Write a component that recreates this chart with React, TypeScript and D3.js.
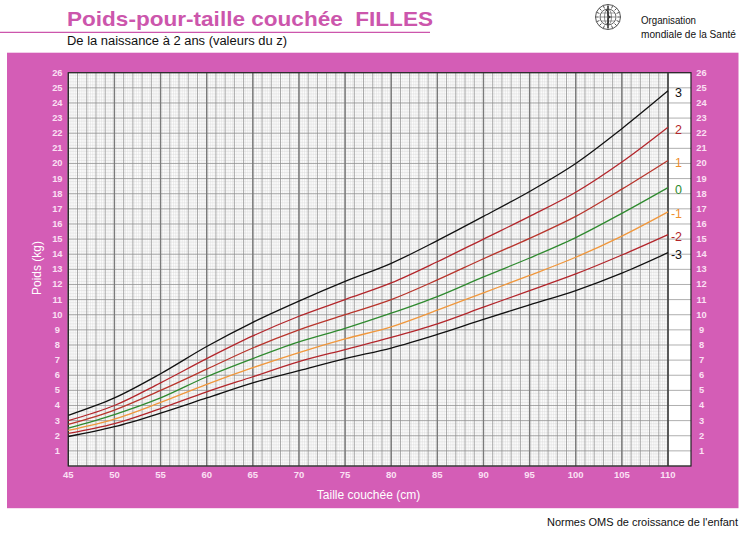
import React from "react";
import * as d3 from "d3";

const lengths = [45, 50, 55, 60, 65, 70, 75, 80, 85, 90, 95, 100, 105, 110];
const sdNeg3 = [1.95, 2.6, 3.5, 4.5, 5.5, 6.3, 7.1, 7.8, 8.7, 9.7, 10.65, 11.6, 12.75, 14.1];
const sdNeg2 = [2.15, 2.8, 3.8, 4.9, 5.9, 6.9, 7.7, 8.5, 9.4, 10.5, 11.6, 12.7, 13.95, 15.3];
const sdNeg1 = [2.35, 3.1, 4.2, 5.4, 6.5, 7.5, 8.4, 9.2, 10.3, 11.45, 12.6, 13.8, 15.2, 16.8];
const sd0 = [2.5, 3.4, 4.5, 5.9, 7.1, 8.2, 9.1, 10.1, 11.2, 12.5, 13.75, 15.1, 16.7, 18.4];
const sd1 = [2.75, 3.7, 5.0, 6.4, 7.8, 9.0, 10.0, 11.0, 12.3, 13.7, 15.05, 16.5, 18.3, 20.2];
const sd2 = [3.0, 4.0, 5.5, 7.1, 8.6, 9.9, 11.0, 12.1, 13.5, 15.0, 16.5, 18.1, 20.1, 22.4];
const sd3 = [3.35, 4.5, 6.1, 7.9, 9.5, 10.9, 12.2, 13.4, 14.9, 16.5, 18.15, 20.0, 22.3, 24.8];

const zLabels = ["3", "2", "1", "0", "-1", "-2", "-3"];
const xTicks = [45, 50, 55, 60, 65, 70, 75, 80, 85, 90, 95, 100, 105, 110];
const yTicks = d3.range(1, 27);

const seriesList = [
  { label: "3", values: sd3, line: "#111111", text: "#111111" },
  { label: "2", values: sd2, line: "#b3262b", text: "#b3262b" },
  { label: "1", values: sd1, line: "#b8352c", text: "#ee8f2f" },
  { label: "0", values: sd0, line: "#2f8a2f", text: "#2f8a2f" },
  { label: "-1", values: sdNeg1, line: "#f0973c", text: "#ee8f2f" },
  { label: "-2", values: sdNeg2, line: "#b3262b", text: "#b3262b" },
  { label: "-3", values: sdNeg3, line: "#111111", text: "#111111" },
];

const PINK = "#d45db6";
const TICK = "#fbe0f4";

export default function App() {
  const x = d3.scaleLinear().domain([45, 110]).range([68.3, 668]);
  const y = d3.scaleLinear().domain([0, 26]).range([466, 72.7]);
  const boxRight = 691;

  const minorX = d3.range(45, 110.001, 0.2).map((v) => Math.round(v * 10) / 10);
  const minorY = d3.range(0, 26.001, 0.2).map((v) => Math.round(v * 10) / 10);
  const unitX = d3.range(45, 111, 1);
  const unitY = d3.range(0, 27, 1);

  const line = d3
    .line<number>()
    .x((_, i) => x(lengths[i]))
    .y((d) => y(d))
    .curve(d3.curveCatmullRom.alpha(0.5));

  return (
    <svg
      width={750}
      height={533}
      style={{ position: "absolute", left: 0, top: 0, background: "#fff" }}
      fontFamily="'Liberation Sans', Arial, sans-serif"
    >
      {/* Title */}
      <text
        x={67}
        y={26}
        fontSize={21}
        fontWeight="bold"
        fill="#cc56ac"
        textLength={366}
        lengthAdjust="spacingAndGlyphs"
        style={{ whiteSpace: "pre" }}
      >
        {"Poids-pour-taille couchée  FILLES"}
      </text>
      <line x1={0} x2={430} y1={32.3} y2={32.3} stroke="#cc56ac" strokeWidth={1.3} />
      <text x={67} y={45} fontSize={12.3} fill="#111" textLength={220} lengthAdjust="spacingAndGlyphs">
        De la naissance à 2 ans (valeurs du z)
      </text>

      {/* WHO logo */}
      <g transform="translate(608,17)" stroke="#444" fill="none">
        <circle r={12.5} strokeWidth={0.9} />
        <circle r={8} strokeWidth={0.8} />
        <ellipse rx={3.5} ry={8} strokeWidth={0.6} />
        <line x1={-8} x2={8} y1={0} y2={0} strokeWidth={0.6} />
        <line x1={-7} x2={7} y1={-4} y2={-4} strokeWidth={0.5} />
        <line x1={-7} x2={7} y1={4} y2={4} strokeWidth={0.5} />
        <line x1={0} x2={0} y1={-11} y2={11} strokeWidth={1.4} stroke="#333" />
        <path d="M-2,-7 C3,-5 -3,-2 2,0 C-3,2 3,5 -1,7" strokeWidth={1.2} stroke="#333" />
        {d3.range(0, 16).map((i) => {
          const a = (i / 16) * Math.PI * 2;
          return (
            <line
              key={i}
              x1={Math.cos(a) * 9.3}
              y1={Math.sin(a) * 9.3}
              x2={Math.cos(a) * 12.3}
              y2={Math.sin(a) * 12.3}
              strokeWidth={0.9}
            />
          );
        })}
      </g>
      <text x={641} y={24} fontSize={10.8} fill="#111" textLength={55} lengthAdjust="spacingAndGlyphs">
        Organisation
      </text>
      <text x={641} y={37.5} fontSize={10.8} fill="#111" textLength={95} lengthAdjust="spacingAndGlyphs">
        mondiale de la Santé
      </text>

      {/* Pink panel */}
      <rect x={7} y={52.7} width={731.5} height={455.5} fill={PINK} />

      {/* Plot background */}
      <rect x={x(45)} y={y(26)} width={boxRight - x(45)} height={y(0) - y(26)} fill="#fff" />

      {/* minor grid */}
      <g stroke="#d6d6d6" strokeWidth={0.45}>
        {minorX.map((v) => (
          <line key={"mx" + v} x1={x(v)} x2={x(v)} y1={y(0)} y2={y(26)} />
        ))}
        {minorY.map((v) => (
          <line key={"my" + v} x1={x(45)} x2={x(110)} y1={y(v)} y2={y(v)} />
        ))}
      </g>
      {/* unit grid */}
      <g stroke="#8d8d8d" strokeWidth={0.7}>
        {unitX.map((v) => (
          <line key={"ux" + v} x1={x(v)} x2={x(v)} y1={y(0)} y2={y(26)} />
        ))}
        {unitY.map((v) => (
          <line key={"uy" + v} x1={x(45)} x2={boxRight} y1={y(v)} y2={y(v)} />
        ))}
      </g>
      {/* major grid */}
      <g stroke="#7a7a7a" strokeWidth={1.4}>
        {xTicks.map((v) => (
          <line key={"Mx" + v} x1={x(v)} x2={x(v)} y1={y(0)} y2={y(26)} />
        ))}
      </g>
      {/* borders */}
      <rect x={x(45)} y={y(26)} width={boxRight - x(45)} height={y(0) - y(26)} fill="none" stroke="#222" strokeWidth={1.2} />
      <line x1={x(110)} x2={x(110)} y1={y(0)} y2={y(26)} stroke="#333" strokeWidth={1.2} />

      {/* curves */}
      {seriesList.map((s) => (
        <path key={s.label} d={line(s.values) || ""} fill="none" stroke={s.line} strokeWidth={1.3} />
      ))}

      {/* curve labels */}
      {seriesList.map((s, i) => (
        <text
          key={"l" + s.label}
          x={682}
          y={y(s.values[s.values.length - 1]) + 2.5}
          fontSize={12.5}
          textAnchor="end"
          dominantBaseline="central"
          fill={s.text}
        >
          {zLabels[i]}
        </text>
      ))}

      {/* y tick labels */}
      {yTicks.map((v) => (
        <g key={"yt" + v} fontSize={9.3} fontWeight="bold" fill={TICK} textAnchor="middle" dominantBaseline="central">
          <text x={57.3} y={y(v)}>{v}</text>
          <text x={701.5} y={y(v)}>{v}</text>
        </g>
      ))}
      {/* x tick labels */}
      {xTicks.map((v) => (
        <text key={"xt" + v} x={x(v)} y={474.5} fontSize={9.5} fontWeight="bold" fill={TICK} textAnchor="middle" dominantBaseline="central">
          {v}
        </text>
      ))}

      {/* axis titles */}
      <text transform={`translate(40.5,${268}) rotate(-90)`} fontSize={12} fill="#fff" textAnchor="middle">
        Poids (kg)
      </text>
      <text x={368.5} y={499} fontSize={12} fill="#fff" textAnchor="middle">
        Taille couchée (cm)
      </text>

      <text x={738} y={526} fontSize={11} fill="#111" textAnchor="end">
        Normes OMS de croissance de l'enfant
      </text>
    </svg>
  );
}
